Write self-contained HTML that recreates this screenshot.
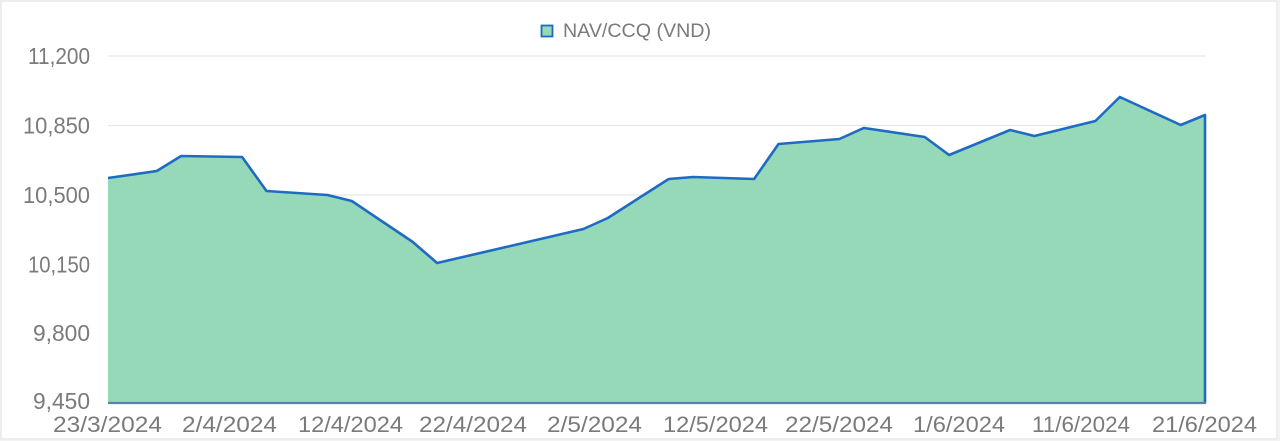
<!DOCTYPE html>
<html>
<head>
<meta charset="utf-8">
<style>
  html,body{margin:0;padding:0;background:#ffffff;}
  svg{display:block;}
  text{font-family:"Liberation Sans",sans-serif;fill:#7a7a7a;}
</style>
</head>
<body>
<svg width="1280" height="441" viewBox="0 0 1280 441" xmlns="http://www.w3.org/2000/svg">
  <rect x="0" y="0" width="1280" height="441" fill="#f3f3f3"/>
  <rect x="1" y="1" width="1276" height="438" fill="#ffffff" stroke="#e9e9e9" stroke-width="1.5"/>

  <!-- gridlines -->
  <g stroke="#e6e6e6" stroke-width="1.2">
    <line x1="108" y1="56" x2="1206" y2="56"/>
    <line x1="108" y1="125.5" x2="1206" y2="125.5"/>
    <line x1="108" y1="195" x2="1206" y2="195"/>
    <line x1="108" y1="264.5" x2="1206" y2="264.5"/>
    <line x1="108" y1="334" x2="1206" y2="334"/>
  </g>

  <!-- area -->
  <polygon fill="#96d9b8" stroke="none"
    points="108,178 156.8,171 181.1,156 242.1,157 266.5,191 327.4,195 351.8,201 412.8,242 437.1,263 583.4,229 607.8,218 668.7,179 693.1,177 754.1,179 778.5,144 839.4,139 863.8,128 924.7,137 949.1,155 1010.1,130 1034.4,136 1095.4,121 1119.8,97 1180.7,125 1205,115 1205,403 108,403"/>
  <polyline fill="none" stroke="#1f6bc4" stroke-width="2.6" stroke-linejoin="round"
    points="108,178 156.8,171 181.1,156 242.1,157 266.5,191 327.4,195 351.8,201 412.8,242 437.1,263 583.4,229 607.8,218 668.7,179 693.1,177 754.1,179 778.5,144 839.4,139 863.8,128 924.7,137 949.1,155 1010.1,130 1034.4,136 1095.4,121 1119.8,97 1180.7,125 1205,115 1205,403"/>
  <line x1="108" y1="403" x2="1206" y2="403" stroke="#5a80ad" stroke-width="2.2"/>

  <!-- y labels -->
  <g font-size="23" text-anchor="end">
    <text x="90" y="64" textLength="62" lengthAdjust="spacingAndGlyphs">11,200</text>
    <text x="90" y="133.5" textLength="67" lengthAdjust="spacingAndGlyphs">10,850</text>
    <text x="90" y="203" textLength="67" lengthAdjust="spacingAndGlyphs">10,500</text>
    <text x="90" y="272.5" textLength="62" lengthAdjust="spacingAndGlyphs">10,150</text>
    <text x="90" y="341" textLength="57" lengthAdjust="spacingAndGlyphs">9,800</text>
    <text x="90" y="409" textLength="57" lengthAdjust="spacingAndGlyphs">9,450</text>
  </g>

  <!-- x labels -->
  <g font-size="22">
    <text x="53" y="432" textLength="109" lengthAdjust="spacingAndGlyphs">23/3/2024</text>
    <text x="182" y="432" textLength="95" lengthAdjust="spacingAndGlyphs">2/4/2024</text>
    <text x="298" y="432" textLength="105" lengthAdjust="spacingAndGlyphs">12/4/2024</text>
    <text x="419" y="432" textLength="108" lengthAdjust="spacingAndGlyphs">22/4/2024</text>
    <text x="547" y="432" textLength="95" lengthAdjust="spacingAndGlyphs">2/5/2024</text>
    <text x="663" y="432" textLength="105" lengthAdjust="spacingAndGlyphs">12/5/2024</text>
    <text x="785" y="432" textLength="108" lengthAdjust="spacingAndGlyphs">22/5/2024</text>
    <text x="913" y="432" textLength="92" lengthAdjust="spacingAndGlyphs">1/6/2024</text>
    <text x="1032" y="432" textLength="98" lengthAdjust="spacingAndGlyphs">11/6/2024</text>
    <text x="1152" y="432" textLength="105" lengthAdjust="spacingAndGlyphs">21/6/2024</text>
  </g>

  <!-- legend -->
  <rect x="541.5" y="25.5" width="11" height="11" fill="#96d9b8" stroke="#1f6bc4" stroke-width="1.8"/>
  <text x="563" y="37" font-size="19" textLength="148" lengthAdjust="spacingAndGlyphs">NAV/CCQ (VND)</text>
</svg>
</body>
</html>
